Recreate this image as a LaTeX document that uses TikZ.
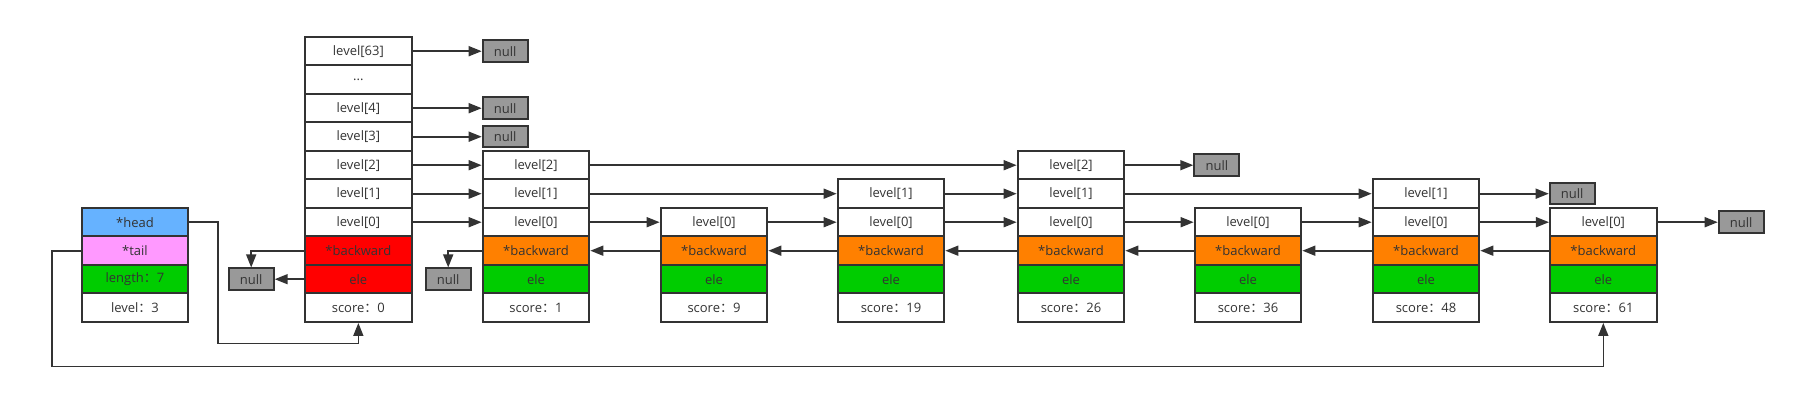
\documentclass[tikz,border=0pt]{standalone}
\usepackage{fontspec}
\setmainfont{Open Sans}
\newfontfamily\cjk{Noto Sans CJK SC}
\usetikzlibrary{arrows.meta}
\definecolor{ink}{HTML}{333333}
\definecolor{headblue}{HTML}{66B2FF}
\definecolor{tailpink}{HTML}{FF99FF}
\definecolor{elegreen}{HTML}{00CC00}
\definecolor{zred}{HTML}{FF0000}
\definecolor{bkorange}{HTML}{FF8000}
\definecolor{nullgray}{HTML}{999999}
\newcommand\fw{{\cjk ：}}
\tikzset{
  cell/.style={draw=ink, line width=2pt, fill=white, minimum width=106.7pt, minimum height=28.5pt,
    inner sep=0pt, text=ink, font=\fontsize{13pt}{15pt}\selectfont},
  nullbox/.style={draw=ink, line width=2pt, fill=nullgray, minimum width=45pt, minimum height=21.5pt,
    inner sep=0pt, text=ink, font=\fontsize{13pt}{15pt}\selectfont},
  arr/.style={draw=ink, line width=1.6pt, -{Triangle[length=13pt,width=10pt]}},
}
\newcommand\skipnode[4]{% name, x-center, top row k, score
  \foreach \k/\lab in {4/2,5/1,6/0}{%
    \ifnum\k<#3\relax\else
      \node[cell] (#1-l\lab) at (#2,{51.2+28.5*\k}) {level[\lab]};
    \fi}
  \node[cell,fill=bkorange] (#1-b) at (#2,250.7) {*backward};
  \node[cell,fill=elegreen] (#1-e) at (#2,279.2) {ele};
  \node[cell] (#1-s) at (#2,307.7) {score\fw#4};
}
\begin{document}
\begin{tikzpicture}[x=1pt,y=-1pt]
\useasboundingbox (0,0) rectangle (1817,412);
% header
\node[cell,fill=headblue] (h-head) at (135,222.2) {*head};
\node[cell,fill=tailpink] (h-tail) at (135,250.7) {*tail};
\node[cell,fill=elegreen] (h-len) at (135,279.2) {length\fw7};
\node[cell] (h-lev) at (135,307.7) {level\fw3};
% zero node
\node[cell] (z-l63) at (358.35,51.2) {level[63]};
\node[cell] (z-dots) at (358.35,79.7) {...};
\node[cell] (z-l4) at (358.35,108.2) {level[4]};
\node[cell] (z-l3) at (358.35,136.7) {level[3]};
\node[cell] (z-l2) at (358.35,165.2) {level[2]};
\node[cell] (z-l1) at (358.35,193.7) {level[1]};
\node[cell] (z-l0) at (358.35,222.2) {level[0]};
\node[cell,fill=zred] (z-b) at (358.35,250.7) {*backward};
\node[cell,fill=zred] (z-e) at (358.35,279.2) {ele};
\node[cell] (z-s) at (358.35,307.7) {score\fw0};
% skip list nodes
\skipnode{n1}{536}{4}{1}
\skipnode{n2}{714}{6}{9}
\skipnode{n3}{891}{5}{19}
\skipnode{n4}{1071}{4}{26}
\skipnode{n5}{1248}{6}{36}
\skipnode{n6}{1426}{5}{48}
\skipnode{n7}{1603.3}{6}{61}
% null boxes
\node[nullbox] (zn63) at (505.2,51.2) {null};
\node[nullbox] (zn4) at (505.2,108.2) {null};
\node[nullbox] (zn3) at (505.2,136.7) {null};
\node[nullbox] (zbn) at (251.2,279.2) {null};
\node[nullbox] (n1bn) at (448.2,279.2) {null};
\node[nullbox] (n4n2) at (1216.8,165.2) {null};
\node[nullbox] (n6n1) at (1572.2,193.7) {null};
\node[nullbox] (n7n0) at (1741.2,222.2) {null};
% forward pointers
\draw[arr] (z-l63) -- (zn63);
\draw[arr] (z-l4) -- (zn4);
\draw[arr] (z-l3) -- (zn3);
\draw[arr] (z-l2) -- (n1-l2);
\draw[arr] (z-l1) -- (n1-l1);
\draw[arr] (z-l0) -- (n1-l0);
\draw[arr] (n1-l2) -- (n4-l2);
\draw[arr] (n1-l1) -- (n3-l1);
\draw[arr] (n1-l0) -- (n2-l0);
\draw[arr] (n2-l0) -- (n3-l0);
\draw[arr] (n3-l1) -- (n4-l1);
\draw[arr] (n3-l0) -- (n4-l0);
\draw[arr] (n4-l2) -- (n4n2);
\draw[arr] (n4-l1) -- (n6-l1);
\draw[arr] (n4-l0) -- (n5-l0);
\draw[arr] (n5-l0) -- (n6-l0);
\draw[arr] (n6-l1) -- (n6n1);
\draw[arr] (n6-l0) -- (n7-l0);
\draw[arr] (n7-l0) -- (n7n0);
% backward pointers
\draw[arr] (n7-b) -- (n6-b);
\draw[arr] (n6-b) -- (n5-b);
\draw[arr] (n5-b) -- (n4-b);
\draw[arr] (n4-b) -- (n3-b);
\draw[arr] (n3-b) -- (n2-b);
\draw[arr] (n2-b) -- (n1-b);
\draw[arr] (n1-b.west) -| (n1bn.north);
\draw[arr] (z-b.west) -| (zbn.north);
\draw[arr] (z-e) -- (zbn);
% head / tail
\coordinate (hc) at (217.7,343.3);
\coordinate (tc) at (52,366.3);
\draw[arr] (h-head.east) -| (hc) -| (z-s.south);
\draw[arr] (h-tail.west) -| (tc) -| (n7-s.south);
\end{tikzpicture}
\end{document}
